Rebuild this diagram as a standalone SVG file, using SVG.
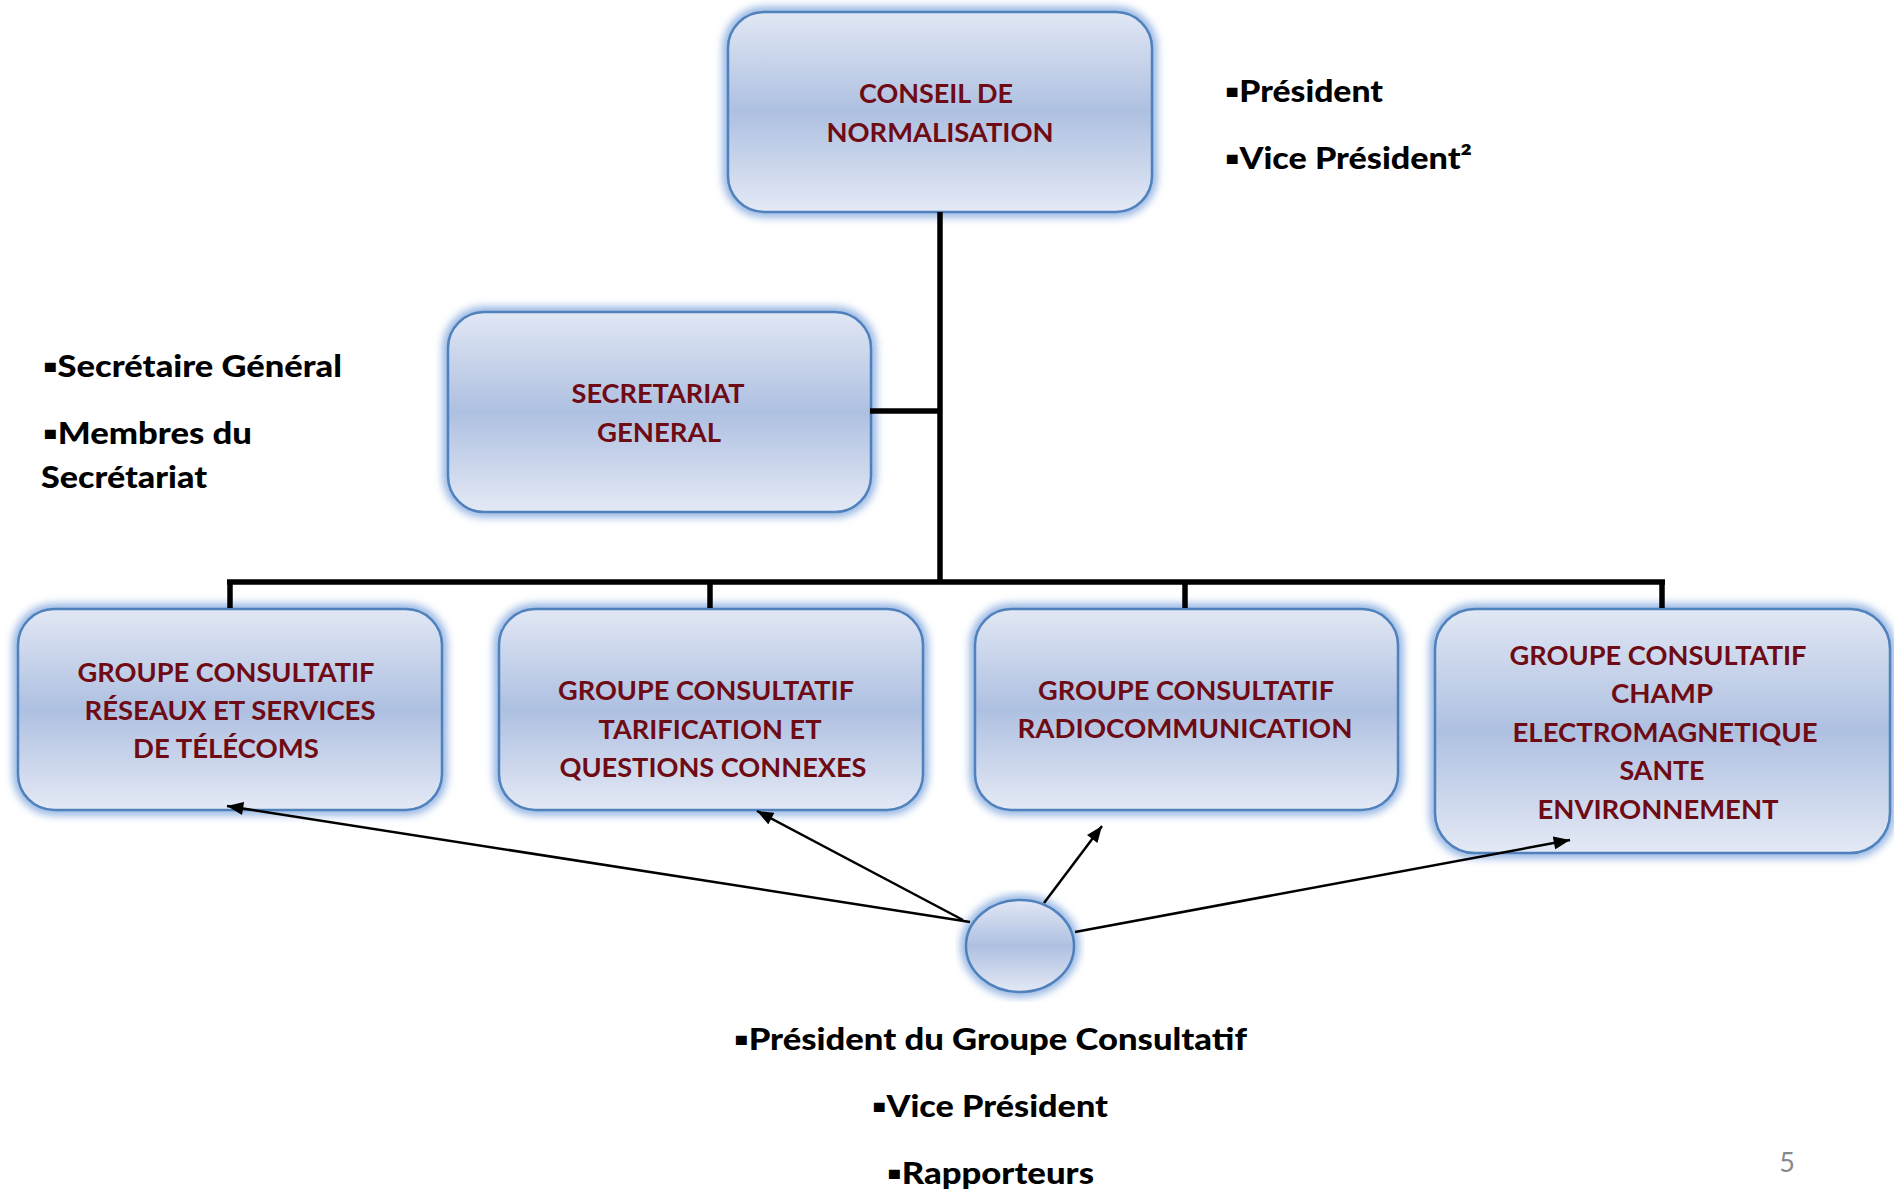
<svg xmlns="http://www.w3.org/2000/svg" width="1894" height="1193" viewBox="0 0 1894 1193">
<defs>
<linearGradient id="fillG" x1="0" y1="0" x2="0" y2="1">
<stop offset="0" stop-color="#E1E7F4"/>
<stop offset="0.5" stop-color="#AEC0E1"/>
<stop offset="1" stop-color="#E4E9F5"/>
</linearGradient>
<filter id="glow" x="-10%" y="-10%" width="120%" height="120%">
<feGaussianBlur stdDeviation="4.5"/>
</filter>
<marker id="ah" viewBox="0 0 10 8" refX="10" refY="4" markerWidth="17" markerHeight="13" markerUnits="userSpaceOnUse" orient="auto">
<path d="M0,0 L10,4 L0,8 z" fill="#000"/>
</marker>
<style>
.glow{fill:none;stroke:#8AADE0;stroke-width:10;filter:url(#glow);}
.box{fill:url(#fillG);stroke:#4F81BD;stroke-width:2.5;}
.t{font-family:Lato,"Open Sans","Liberation Sans",sans-serif;font-weight:bold;font-size:26px;fill:#6E0B14;text-anchor:middle;}
.lbl{font-family:Lato,"Open Sans","Liberation Sans",sans-serif;font-weight:900;font-size:30px;fill:#000;}
.bus{fill:none;stroke:#000;stroke-width:5.5;}
.arr{fill:none;stroke:#000;stroke-width:2.5;marker-end:url(#ah);}
</style>
</defs>
<rect width="1894" height="1193" fill="#fff"/>

<g id="conseil">
<rect class="glow" x="728" y="12" width="424" height="200" rx="36"/>
<rect class="box" x="728" y="12" width="424" height="200" rx="36"/>
<text class="t" x="936" y="103" textLength="154" lengthAdjust="spacingAndGlyphs">CONSEIL DE</text>
<text class="t" x="940" y="142" textLength="227" lengthAdjust="spacingAndGlyphs">NORMALISATION</text>
</g>

<g id="secretariat">
<rect class="glow" x="448" y="312" width="423" height="200" rx="36"/>
<rect class="box" x="448" y="312" width="423" height="200" rx="36"/>
<text class="t" x="658" y="403" textLength="173" lengthAdjust="spacingAndGlyphs">SECRETARIAT</text>
<text class="t" x="659" y="442" textLength="124" lengthAdjust="spacingAndGlyphs">GENERAL</text>
</g>

<g id="gc-reseaux">
<rect class="glow" x="18" y="609" width="424" height="201" rx="36"/>
<rect class="box" x="18" y="609" width="424" height="201" rx="36"/>
<text class="t" x="226" y="682" textLength="297" lengthAdjust="spacingAndGlyphs">GROUPE CONSULTATIF</text>
<text class="t" x="230" y="720" textLength="291" lengthAdjust="spacingAndGlyphs">RÉSEAUX ET SERVICES</text>
<text class="t" x="226" y="758" textLength="186" lengthAdjust="spacingAndGlyphs">DE TÉLÉCOMS</text>
</g>

<g id="gc-tarification">
<rect class="glow" x="499" y="609" width="424" height="201" rx="36"/>
<rect class="box" x="499" y="609" width="424" height="201" rx="36"/>
<text class="t" x="706" y="700" textLength="296" lengthAdjust="spacingAndGlyphs">GROUPE CONSULTATIF</text>
<text class="t" x="710" y="739" textLength="223" lengthAdjust="spacingAndGlyphs">TARIFICATION ET</text>
<text class="t" x="713" y="777" textLength="307" lengthAdjust="spacingAndGlyphs">QUESTIONS CONNEXES</text>
</g>

<g id="gc-radio">
<rect class="glow" x="975" y="609" width="423" height="201" rx="36"/>
<rect class="box" x="975" y="609" width="423" height="201" rx="36"/>
<text class="t" x="1186" y="700" textLength="296" lengthAdjust="spacingAndGlyphs">GROUPE CONSULTATIF</text>
<text class="t" x="1185" y="738" textLength="335" lengthAdjust="spacingAndGlyphs">RADIOCOMMUNICATION</text>
</g>

<g id="gc-champ">
<rect class="glow" x="1435" y="609" width="455" height="244" rx="40"/>
<rect class="box" x="1435" y="609" width="455" height="244" rx="40"/>
<text class="t" x="1658" y="665" textLength="297" lengthAdjust="spacingAndGlyphs">GROUPE CONSULTATIF</text>
<text class="t" x="1662" y="703" textLength="102" lengthAdjust="spacingAndGlyphs">CHAMP</text>
<text class="t" x="1665" y="742" textLength="305" lengthAdjust="spacingAndGlyphs">ELECTROMAGNETIQUE</text>
<text class="t" x="1662" y="780" textLength="85" lengthAdjust="spacingAndGlyphs">SANTE</text>
<text class="t" x="1658" y="819" textLength="241" lengthAdjust="spacingAndGlyphs">ENVIRONNEMENT</text>
</g>

<g id="hub">
<ellipse class="glow" cx="1020" cy="946" rx="54" ry="46"/>
<ellipse class="box" cx="1020" cy="946" rx="54" ry="46"/>
</g>

<g id="connectors">
<path class="bus" d="M940,212 V582"/>
<path class="bus" d="M870,411 H940"/>
<path class="bus" d="M227,582 H1665"/>
<path class="bus" d="M230,580 V608"/>
<path class="bus" d="M710,580 V608"/>
<path class="bus" d="M1185,580 V608"/>
<path class="bus" d="M1662,580 V608"/>
<path class="arr" d="M970,922 L227,806"/>
<path class="arr" d="M963,920 L757,811"/>
<path class="arr" d="M1044,903 L1102,826"/>
<path class="arr" d="M1075,932 L1570,840"/>
</g>

<g id="labels">
<text class="lbl" x="1225" y="102" textLength="158" lengthAdjust="spacingAndGlyphs">▪Président</text>
<text class="lbl" x="1225" y="169" textLength="247" lengthAdjust="spacingAndGlyphs">▪Vice Président²</text>
<text class="lbl" x="43" y="377" textLength="299" lengthAdjust="spacingAndGlyphs">▪Secrétaire Général</text>
<text class="lbl" x="43" y="444" textLength="209" lengthAdjust="spacingAndGlyphs">▪Membres du</text>
<text class="lbl" x="41" y="488" textLength="166" lengthAdjust="spacingAndGlyphs">Secrétariat</text>
<text class="lbl" x="734" y="1050" textLength="513" lengthAdjust="spacingAndGlyphs">▪Président du Groupe Consultatif</text>
<text class="lbl" x="872" y="1117" textLength="236" lengthAdjust="spacingAndGlyphs">▪Vice Président</text>
<text class="lbl" x="887" y="1184" textLength="207" lengthAdjust="spacingAndGlyphs">▪Rapporteurs</text>
<text x="1787" y="1172" font-family="Lato,'Open Sans','Liberation Sans',sans-serif" font-size="27" fill="#8A8A8A" text-anchor="middle">5</text>
</g>
</svg>
